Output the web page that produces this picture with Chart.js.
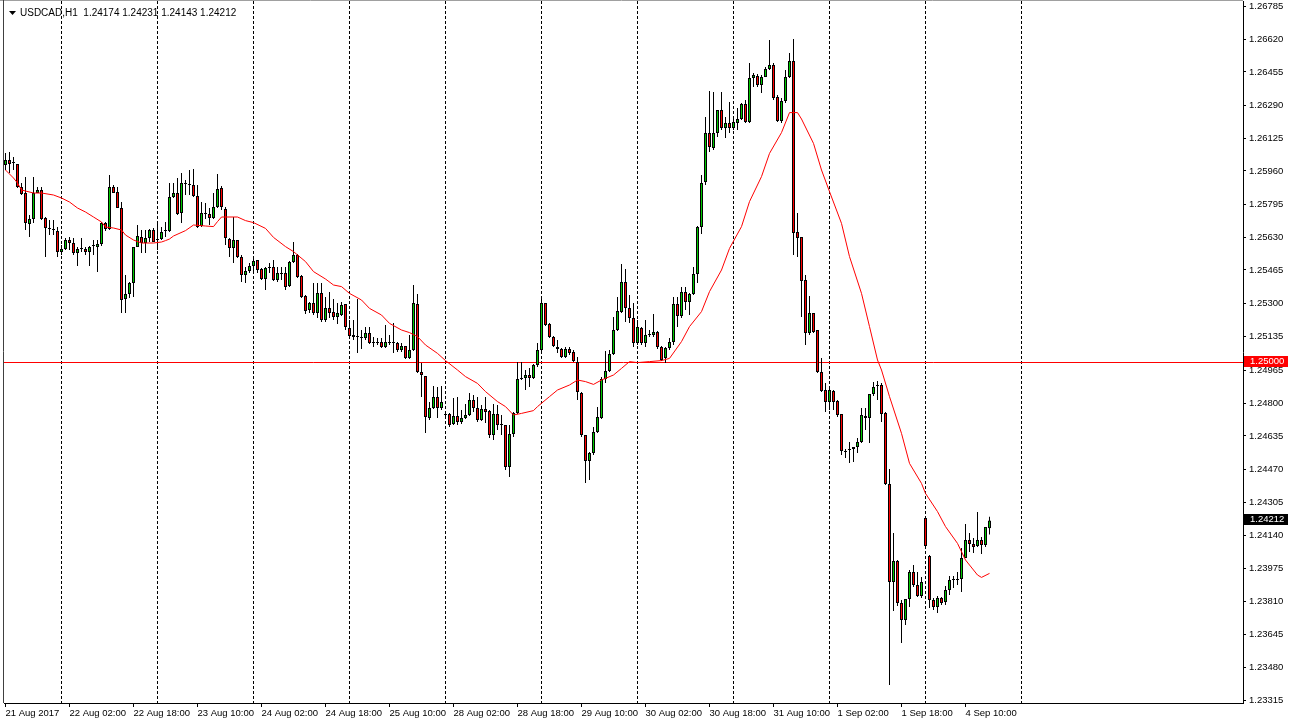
<!DOCTYPE html>
<html>
<head>
<meta charset="utf-8">
<title>USDCAD H1</title>
<script src="https://cdn.jsdelivr.net/npm/chart.js@4.4.1/dist/chart.umd.min.js"></script>
<style>
  html, body { margin: 0; padding: 0; background: #fff; overflow: hidden; }
  #wrap { position: relative; width: 1289px; height: 725px; }
</style>
</head>
<body>
<div id="wrap"><canvas id="chart"></canvas></div>
<script>
// ==============================
// Datos
// ==============================
const symbolTitle = 'USDCAD,H1';

const openP = [
  1.25990,1.26015,1.26000,1.25995,1.25880,1.25850,1.25695,1.25720,1.25850,1.25865,
  1.25725,1.25670,1.25665,1.25660,1.25555,1.25570,1.25615,1.25600,1.25550,1.25570,
  1.25570,1.25555,1.25585,1.25580,1.25595,1.25700,1.25670,1.25880,1.25855,1.25775,
  1.25320,1.25345,1.25400,1.25580,1.25630,1.25600,1.25625,1.25665,1.25615,1.25620,
  1.25660,1.25660,1.25830,1.25850,1.25750,1.25895,1.25895,1.25890,1.25835,1.25685,
  1.25750,1.25745,1.25725,1.25780,1.25875,1.25770,1.25620,1.25575,1.25615,1.25530,
  1.25440,1.25460,1.25485,1.25515,1.25470,1.25420,1.25475,1.25480,1.25415,1.25445,
  1.25450,1.25385,1.25505,1.25540,1.25435,1.25335,1.25265,1.25300,1.25250,1.25350,
  1.25215,1.25275,1.25255,1.25230,1.25240,1.25295,1.25175,1.25140,1.25135,1.25130,
  1.25125,1.25150,1.25100,1.25100,1.25105,1.25080,1.25100,1.25100,1.25100,1.25065,
  1.25085,1.25025,1.25065,1.25295,1.24955,1.24935,1.24725,1.24775,1.24830,1.24775,
  1.24745,1.24745,1.24695,1.24735,1.24705,1.24725,1.24740,1.24815,1.24775,1.24715,
  1.24770,1.24760,1.24640,1.24745,1.24690,1.24690,1.24480,1.24645,1.24750,1.24920,
  1.24925,1.24940,1.24925,1.24990,1.25065,1.25300,1.25195,1.25130,1.25080,1.25070,
  1.25030,1.25070,1.25055,1.25005,1.24850,1.24640,1.24510,1.24550,1.24655,1.24725,
  1.24920,1.24960,1.25045,1.25165,1.25255,1.25405,1.25275,1.25225,1.25100,1.25175,
  1.25100,1.25140,1.25140,1.25155,1.25080,1.25025,1.25075,1.25105,1.25295,1.25235,
  1.25355,1.25305,1.25345,1.25445,1.25680,1.25905,1.26150,1.26075,1.26150,1.26265,
  1.26175,1.26200,1.26175,1.26200,1.26220,1.26295,1.26205,1.26425,1.26435,1.26390,
  1.26430,1.26470,1.26490,1.26330,1.26210,1.26310,1.26430,1.26510,1.25655,1.25630,
  1.25415,1.25150,1.25250,1.25165,1.24955,1.24865,1.24805,1.24860,1.24810,1.24745,
  1.24560,1.24565,1.24570,1.24580,1.24605,1.24735,1.24725,1.24845,1.24885,1.24890,
  1.24750,1.24395,1.23905,1.24010,1.23800,1.23715,1.23820,1.23955,1.23890,1.23835,
  1.24225,1.24035,1.23815,1.23780,1.23825,1.23805,1.23865,1.23915,1.23915,1.23920,
  1.24025,1.24115,1.24095,1.24085,1.24115,1.24090,1.24174
];

const highP = [
  1.26050,1.26055,1.26030,1.25995,1.25900,1.25930,1.25740,1.25930,1.25880,1.25880,
  1.25730,1.25715,1.25715,1.25680,1.25590,1.25625,1.25630,1.25625,1.25580,1.25625,
  1.25580,1.25585,1.25615,1.25615,1.25705,1.25705,1.25940,1.25890,1.25880,1.25805,
  1.25440,1.25405,1.25580,1.25690,1.25665,1.25665,1.25670,1.25675,1.25705,1.25680,
  1.25705,1.25900,1.25900,1.25925,1.25950,1.25915,1.25965,1.25970,1.25890,1.25805,
  1.25800,1.25775,1.25850,1.25945,1.25885,1.25780,1.25625,1.25730,1.25615,1.25540,
  1.25480,1.25500,1.25525,1.25515,1.25475,1.25480,1.25500,1.25515,1.25480,1.25480,
  1.25480,1.25510,1.25605,1.25545,1.25440,1.25340,1.25305,1.25400,1.25400,1.25400,
  1.25330,1.25355,1.25320,1.25300,1.25305,1.25295,1.25215,1.25215,1.25320,1.25165,
  1.25180,1.25180,1.25130,1.25125,1.25125,1.25190,1.25140,1.25200,1.25105,1.25100,
  1.25085,1.25140,1.25390,1.25345,1.25000,1.24935,1.24805,1.24885,1.24880,1.24885,
  1.24755,1.24750,1.24825,1.24830,1.24765,1.24795,1.24850,1.24840,1.24830,1.24790,
  1.24830,1.24765,1.24795,1.24790,1.24740,1.24690,1.24690,1.24755,1.25005,1.25005,
  1.24965,1.24975,1.24995,1.25100,1.25335,1.25300,1.25200,1.25135,1.25115,1.25075,
  1.25080,1.25080,1.25065,1.25030,1.24855,1.24640,1.24555,1.24680,1.24780,1.24930,
  1.25060,1.25065,1.25230,1.25330,1.25495,1.25470,1.25340,1.25300,1.25215,1.25180,
  1.25215,1.25165,1.25245,1.25160,1.25085,1.25080,1.25125,1.25330,1.25330,1.25380,
  1.25380,1.25350,1.25480,1.25685,1.25940,1.26230,1.26360,1.26355,1.26265,1.26355,
  1.26230,1.26305,1.26230,1.26275,1.26300,1.26315,1.26500,1.26450,1.26445,1.26440,
  1.26480,1.26615,1.26500,1.26340,1.26325,1.26465,1.26550,1.26620,1.25750,1.25630,
  1.25440,1.25335,1.25250,1.25165,1.25025,1.24900,1.24875,1.24865,1.24815,1.24745,
  1.24570,1.24605,1.24580,1.24625,1.24775,1.24775,1.24845,1.24905,1.24910,1.24900,
  1.24755,1.24470,1.24150,1.24015,1.23815,1.23820,1.23965,1.23990,1.23955,1.23930,
  1.24225,1.24040,1.23825,1.23835,1.23830,1.23885,1.23935,1.23935,1.23955,1.24075,
  1.24195,1.24150,1.24125,1.24255,1.24130,1.24180,1.24231
];

const lowP = [
  1.25965,1.25950,1.25965,1.25875,1.25840,1.25665,1.25630,1.25700,1.25850,1.25715,
  1.25530,1.25640,1.25640,1.25530,1.25540,1.25565,1.25565,1.25540,1.25485,1.25555,
  1.25540,1.25485,1.25540,1.25455,1.25585,1.25660,1.25665,1.25850,1.25775,1.25250,
  1.25250,1.25325,1.25330,1.25580,1.25550,1.25550,1.25605,1.25605,1.25565,1.25615,
  1.25630,1.25655,1.25825,1.25740,1.25700,1.25840,1.25840,1.25830,1.25675,1.25680,
  1.25720,1.25690,1.25720,1.25775,1.25765,1.25590,1.25530,1.25500,1.25525,1.25405,
  1.25400,1.25450,1.25460,1.25450,1.25415,1.25365,1.25450,1.25410,1.25405,1.25415,
  1.25365,1.25380,1.25500,1.25425,1.25325,1.25245,1.25250,1.25240,1.25225,1.25205,
  1.25205,1.25225,1.25215,1.25195,1.25235,1.25165,1.25130,1.25115,1.25050,1.25070,
  1.25115,1.25095,1.25080,1.25090,1.25075,1.25075,1.25090,1.25050,1.25055,1.25055,
  1.25020,1.25020,1.25060,1.24950,1.24830,1.24650,1.24715,1.24770,1.24725,1.24765,
  1.24725,1.24680,1.24690,1.24690,1.24695,1.24720,1.24735,1.24755,1.24705,1.24710,
  1.24700,1.24625,1.24615,1.24665,1.24640,1.24465,1.24430,1.24630,1.24745,1.24915,
  1.24865,1.24880,1.24920,1.24980,1.25060,1.25185,1.25125,1.25080,1.25050,1.25025,
  1.25025,1.25040,1.25005,1.24815,1.24630,1.24400,1.24415,1.24540,1.24650,1.24720,
  1.24900,1.24955,1.25040,1.25160,1.25250,1.25205,1.25200,1.25080,1.25090,1.25090,
  1.25080,1.25130,1.25130,1.25070,1.25010,1.25000,1.25065,1.25090,1.25180,1.25225,
  1.25265,1.25240,1.25340,1.25400,1.25645,1.25890,1.26055,1.26065,1.26130,1.26165,
  1.26125,1.26150,1.26165,1.26165,1.26215,1.26200,1.26200,1.26380,1.26380,1.26350,
  1.26430,1.26465,1.26315,1.26205,1.26200,1.26300,1.26425,1.25540,1.25530,1.25230,
  1.25090,1.25140,1.25150,1.24950,1.24855,1.24755,1.24765,1.24765,1.24730,1.24540,
  1.24525,1.24500,1.24505,1.24550,1.24600,1.24665,1.24600,1.24835,1.24815,1.24705,
  1.24390,1.23390,1.23760,1.23785,1.23600,1.23690,1.23780,1.23880,1.23830,1.23825,
  1.24075,1.23775,1.23765,1.23750,1.23790,1.23790,1.23840,1.23875,1.23890,1.23855,
  1.24025,1.24055,1.24050,1.24080,1.24045,1.24080,1.24143
];

const closeP = [
  1.26015,1.25995,1.26000,1.25880,1.25845,1.25700,1.25720,1.25850,1.25865,1.25720,
  1.25675,1.25670,1.25665,1.25555,1.25570,1.25615,1.25600,1.25550,1.25570,1.25570,
  1.25555,1.25580,1.25585,1.25595,1.25700,1.25670,1.25880,1.25850,1.25775,1.25315,
  1.25345,1.25400,1.25580,1.25635,1.25600,1.25625,1.25665,1.25605,1.25620,1.25655,
  1.25660,1.25830,1.25850,1.25745,1.25900,1.25895,1.25890,1.25835,1.25680,1.25750,
  1.25745,1.25725,1.25780,1.25870,1.25780,1.25625,1.25575,1.25615,1.25530,1.25440,
  1.25460,1.25485,1.25510,1.25465,1.25420,1.25475,1.25475,1.25415,1.25450,1.25445,
  1.25380,1.25505,1.25540,1.25430,1.25330,1.25260,1.25300,1.25250,1.25350,1.25215,
  1.25275,1.25250,1.25230,1.25250,1.25290,1.25180,1.25135,1.25130,1.25130,1.25125,
  1.25150,1.25100,1.25100,1.25100,1.25080,1.25105,1.25100,1.25100,1.25065,1.25085,
  1.25025,1.25065,1.25300,1.24955,1.24940,1.24730,1.24775,1.24830,1.24775,1.24805,
  1.24740,1.24690,1.24735,1.24705,1.24725,1.24740,1.24815,1.24775,1.24715,1.24770,
  1.24755,1.24640,1.24745,1.24690,1.24690,1.24480,1.24645,1.24750,1.24920,1.24925,
  1.24940,1.24925,1.24990,1.25065,1.25300,1.25190,1.25130,1.25085,1.25070,1.25030,
  1.25070,1.25050,1.25010,1.24855,1.24640,1.24510,1.24550,1.24655,1.24730,1.24920,
  1.24960,1.25045,1.25165,1.25260,1.25405,1.25275,1.25225,1.25100,1.25180,1.25100,
  1.25140,1.25145,1.25155,1.25080,1.25015,1.25075,1.25105,1.25295,1.25235,1.25355,
  1.25305,1.25345,1.25445,1.25680,1.25900,1.26150,1.26080,1.26150,1.26265,1.26175,
  1.26200,1.26175,1.26205,1.26220,1.26295,1.26205,1.26425,1.26440,1.26390,1.26430,
  1.26470,1.26490,1.26325,1.26210,1.26310,1.26430,1.26510,1.25650,1.25625,1.25410,
  1.25150,1.25250,1.25155,1.24955,1.24860,1.24805,1.24865,1.24805,1.24740,1.24560,
  1.24555,1.24565,1.24580,1.24605,1.24740,1.24725,1.24845,1.24880,1.24885,1.24745,
  1.24395,1.23905,1.24010,1.23800,1.23715,1.23820,1.23955,1.23890,1.23835,1.23905,
  1.24085,1.23815,1.23780,1.23825,1.23800,1.23865,1.23915,1.23920,1.23920,1.24025,
  1.24115,1.24095,1.24080,1.24115,1.24090,1.24180,1.24212
];

// Media móvil (roja), puntos leídos a lo largo de la curva
const maIdx = [
  0,2,3,4,7,9,12,14,16,18,20,22,24,25,27,29,30,32,34,35,37,39,40,41,42,45,47,50,52,53,
  54,58,60,62,65,67,70,72,75,77,80,82,84,86,89,91,94,96,99,101,103,105,108,110,113,115,
  118,120,123,125,127,129,132,133,136,138,141,143,145,147,149,152,154,156,158,161,164,
  166,169,171,174,176,179,181,184,186,189,191,194,196,198,199,202,204,206,209,211,214,
  216,218,219,221,224,226,229,230,233,235,238,240,243,244,246
];
const maVal = [
  1.25965,1.25925,1.25900,1.25865,1.25850,1.25850,1.25840,1.25825,1.25805,1.25775,
  1.25755,1.25730,1.25705,1.25680,1.25675,1.25665,1.25640,1.25615,1.25600,1.25600,
  1.25600,1.25605,1.25612,1.25620,1.25635,1.25662,1.25690,1.25685,1.25682,1.25707,
  1.25730,1.25730,1.25712,1.25702,1.25673,1.25628,1.25582,1.25557,1.25507,1.25457,
  1.25420,1.25390,1.25382,1.25348,1.25315,1.25273,1.25240,1.25198,1.25165,1.25152,
  1.25132,1.25090,1.25048,1.25012,1.24965,1.24932,1.24898,1.24857,1.24807,1.24782,
  1.24740,1.24748,1.24762,1.24782,1.24832,1.24865,1.24890,1.24915,1.24907,1.24893,
  1.24915,1.24940,1.24973,1.25007,1.25002,1.25007,1.25012,1.25023,1.25107,1.25182,
  1.25257,1.25357,1.25465,1.25573,1.25682,1.25807,1.25932,1.26048,1.26152,1.26252,
  1.26252,1.26220,1.26098,1.25965,1.25857,1.25698,1.25532,1.25348,1.25182,1.25015,
  1.24965,1.24832,1.24648,1.24498,1.24398,1.24348,1.24257,1.24182,1.24098,1.24015,
  1.23940,1.23928,1.23948
];

const timeLabels = [
  '21 Aug 2017','22 Aug 02:00','22 Aug 18:00','23 Aug 10:00','24 Aug 02:00','24 Aug 18:00',
  '25 Aug 10:00','28 Aug 02:00','28 Aug 18:00','29 Aug 10:00','30 Aug 02:00','30 Aug 18:00',
  '31 Aug 10:00','1 Sep 02:00','1 Sep 18:00','4 Sep 10:00'
];
const labelStep = 16;                 // una etiqueta cada 16 velas
const dayStartIdx = [14,38,62,86,110,134,158,182,206,230,254];

const priceTicks = [
  1.26785,1.26620,1.26455,1.26290,1.26125,1.25960,1.25795,1.25630,1.25465,1.25300,1.25135,
  1.24965,1.24800,1.24635,1.24470,1.24305,1.24140,1.23975,1.23810,1.23645,1.23480,1.23315
];
const levelPrice = 1.25000;

// ==============================
// Estilo
// ==============================
const BULL = '#00c800';
const BEAR = '#ff0000';
const FONT = { family: "'Liberation Sans', Arial, sans-serif", size: 9.5 };
const last = closeP.length - 1;

// ==============================
// Plugin: separadores, nivel, cajas de precio y cabecera
// ==============================
function priceBox(ctx, yScale, price, bg) {
  const py = Math.round(yScale.getPixelForValue(price));
  ctx.fillStyle = bg;
  ctx.fillRect(1244, py - 7, 44, 11);
  ctx.fillStyle = '#fff';
  ctx.font = `${FONT.size}px ${FONT.family}`;
  ctx.textAlign = 'left';
  ctx.textBaseline = 'middle';
  ctx.fillText(price.toFixed(5), 1250, py - 1.5);
}

const overlay = {
  id: 'overlay',
  beforeDatasetsDraw(chart) {
    const { ctx, chartArea: a, scales: { x, y } } = chart;
    ctx.save();
    ctx.lineWidth = 1;
    ctx.strokeStyle = '#000';
    ctx.setLineDash([3, 2]);
    for (const i of dayStartIdx) {
      const px = Math.round(x.getPixelForValue(i) - 0.5) + 0.5;
      if (px > a.right) continue;
      ctx.beginPath(); ctx.moveTo(px, a.top); ctx.lineTo(px, a.bottom); ctx.stroke();
    }
    ctx.setLineDash([]);
    const ly = Math.round(y.getPixelForValue(levelPrice)) - 0.5;
    ctx.strokeStyle = '#ff0000';
    ctx.beginPath(); ctx.moveTo(a.left, ly); ctx.lineTo(a.right, ly); ctx.stroke();
    ctx.restore();
  },
  afterDraw(chart) {
    const { ctx, chartArea: a, scales: { y } } = chart;
    ctx.save();
    // marco
    ctx.lineWidth = 1;
    ctx.strokeStyle = '#a0a0a0';
    ctx.beginPath(); ctx.moveTo(0, 0.5); ctx.lineTo(a.right, 0.5); ctx.stroke();
    ctx.strokeStyle = '#404040';
    ctx.beginPath(); ctx.moveTo(3.5, 0); ctx.lineTo(3.5, a.bottom); ctx.stroke();
    // cajas del eje
    priceBox(ctx, y, levelPrice, '#ff0000');
    priceBox(ctx, y, closeP[last], '#000');
    // cabecera
    ctx.fillStyle = '#000';
    ctx.beginPath(); ctx.moveTo(9, 11); ctx.lineTo(16, 11); ctx.lineTo(12.5, 15); ctx.closePath(); ctx.fill();
    ctx.font = `10px ${FONT.family}`;
    ctx.textAlign = 'left';
    ctx.textBaseline = 'middle';
    const hdr = `${symbolTitle}  ${openP[last].toFixed(5)} ${highP[last].toFixed(5)} ${lowP[last].toFixed(5)} ${closeP[last].toFixed(5)}`;
    ctx.fillText(hdr, 20, 13);
    ctx.restore();
  }
};

// ==============================
// Gráfico
// ==============================
const wickData = lowP.map((l, i) => ({ x: i, y: [l, highP[i]] }));
const bodyData = openP.map((o, i) => ({ x: i, y: [o, closeP[i]] }));
const bodyColors = openP.map((o, i) => (closeP[i] > o ? BULL : closeP[i] < o ? BEAR : '#000'));
const maData = maIdx.map((i, k) => ({ x: i, y: maVal[k] }));

new Chart(document.getElementById('chart'), {
  data: {
    datasets: [
      {
        type: 'bar', label: 'wick', data: wickData, order: 3,
        backgroundColor: '#000', borderWidth: 0, barThickness: 1,
        grouped: false, inflateAmount: 0
      },
      {
        type: 'bar', label: 'body', data: bodyData, order: 2,
        backgroundColor: bodyColors, borderColor: '#000', borderWidth: 1,
        borderSkipped: false, barThickness: 3, minBarLength: 1,
        grouped: false, inflateAmount: 0
      },
      {
        type: 'line', label: 'MA', data: maData, order: 1,
        borderColor: '#ff0000', borderWidth: 1, pointRadius: 0, tension: 0, fill: false
      }
    ]
  },
  options: {
    responsive: true,
    maintainAspectRatio: false,
    animation: false,
    devicePixelRatio: 1,
    layout: { padding: { left: 4, top: 1, right: 0, bottom: 0 } },
    plugins: { legend: { display: false }, tooltip: { enabled: false } },
    scales: {
      x: {
        type: 'linear',
        offset: false,
        min: -0.375,
        max: 309.375,
        position: 'bottom',
        grid: { offset: false, drawOnChartArea: false, drawTicks: true, tickLength: 4, color: '#000' },
        border: { display: true, color: '#000' },
        ticks: {
          autoSkip: false, maxRotation: 0, minRotation: 0, align: 'start',
          padding: 1, color: '#000', font: FONT,
          callback: (v, idx) => timeLabels[idx]
        },
        afterBuildTicks: (s) => { s.ticks = timeLabels.map((_, k) => ({ value: k * labelStep })); },
        afterFit: (s) => { s.height = 22; s.paddingLeft = 0; s.paddingRight = 0; }
      },
      y: {
        type: 'linear',
        position: 'right',
        min: 1.23300,
        max: 1.26810,
        grid: { drawOnChartArea: false, drawTicks: true, tickLength: 3, color: '#000' },
        border: { display: true, color: '#000' },
        ticks: { padding: 3, color: '#000', font: FONT, callback: (v) => Number(v).toFixed(5) },
        afterBuildTicks: (s) => { s.ticks = priceTicks.map(v => ({ value: v })); },
        afterFit: (s) => { s.width = 46; s.paddingTop = 0; s.paddingBottom = 0; }
      }
    }
  },
  plugins: [overlay]
});
</script>
</body>
</html>
